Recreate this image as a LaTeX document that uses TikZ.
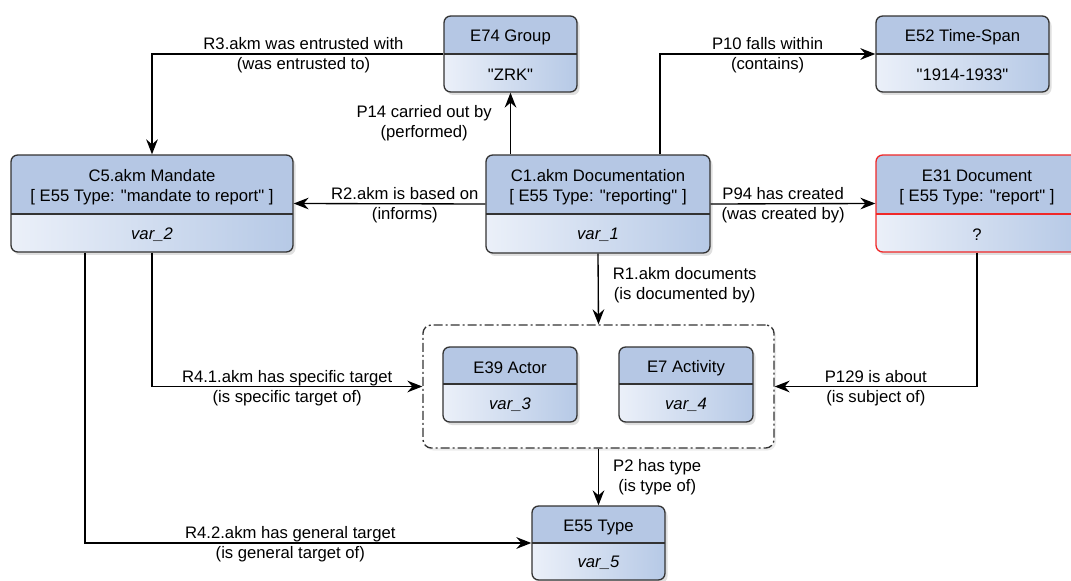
\documentclass[tikz,border=0pt]{standalone}
\usepackage{fontspec}
\setmainfont{Liberation Sans}[Ligatures=TeXOff]
\usetikzlibrary{arrows.meta,shadows}

\definecolor{hdrblue}{HTML}{B5C7E4}
\definecolor{bodyleft}{HTML}{EBF0F9}
\definecolor{bodyright}{HTML}{B6C9E6}
\definecolor{boxline}{HTML}{333333}
\definecolor{redline}{HTML}{F02828}

\tikzset{
  entity/.style n args={4}{draw=#4, line width=0.8pt, rounded corners=4pt,
    minimum width=#1*0.6pt, minimum height=#2*0.6pt, inner sep=0pt,
    drop shadow={shadow xshift=1.5pt, shadow yshift=-1.8pt, opacity=0.25},
    path picture={
      \fill[hdrblue, sharp corners] (path picture bounding box.north west) rectangle ([yshift=-#3*0.6pt]path picture bounding box.north east);
      \shade[left color=bodyleft, right color=bodyright, sharp corners] ([yshift=-#3*0.6pt]path picture bounding box.north west) rectangle (path picture bounding box.south east);
      \draw[#4, line width=0.8pt, sharp corners] ([yshift=-#3*0.6pt]path picture bounding box.north west) -- ([yshift=-#3*0.6pt]path picture bounding box.north east);
    }},
  frame/.style={draw=boxline, line width=0.8pt, rounded corners=5pt, fill=white,
    dash pattern=on 5.4pt off 1.8pt on 1.2pt off 1.8pt, inner sep=0pt,
    drop shadow={shadow xshift=1.2pt, shadow yshift=-1.5pt, opacity=0.15}},
  hdrtext/.style={align=center, inner sep=0pt, yshift=-1.5pt},
  bodytext/.style={inner sep=0pt, yshift=-1pt},
  rel/.style={draw=black, line width=0.8pt, -{Stealth[length=9pt, width=7pt, inset=3pt]}},
  lbl/.style={align=center, inner sep=0pt}
}

\begin{document}
\begin{tikzpicture}[x=0.6pt, y=-0.6pt, font=\fontsize{10}{12}\selectfont]
  \useasboundingbox (0,0) rectangle (1071,581);

  % top row
  \node[entity={133}{76}{38}{boxline}] (group) at (510.5,54) {};
  \node[hdrtext] (group-h) at (510.5,35) {E74 Group};
  \node[bodytext] (group-b) at (510.5,73) {"ZRK"};

  \node[entity={173}{76}{38}{boxline}] (span) at (962.5,54) {};
  \node[hdrtext] (span-h) at (962.5,35) {E52 Time-Span};
  \node[bodytext] (span-b) at (962.5,73) {"1914-1933"};

  % middle row
  \node[entity={282}{97}{59}{boxline}] (mandate) at (152,203.5) {};
  \node[hdrtext] (mandate-h) at (152,184.5) {C5.akm Mandate\\{[} E55 Type: "mandate to report" ]};
  \node[bodytext] (mandate-b) at (152,233) {\textit{var\_2}};

  \node[entity={224}{98}{59}{boxline}] (doc) at (598,204) {};
  \node[hdrtext] (doc-h) at (598,184.5) {C1.akm Documentation\\{[} E55 Type: "reporting" ]};
  \node[bodytext] (doc-b) at (598,233.5) {\textit{var\_1}};

  \node[entity={202}{97}{59}{redline}] (report) at (977,203.5) {};
  \node[hdrtext] (report-h) at (977,184.5) {E31 Document\\{[} E55 Type: "report" ]};
  \node[bodytext] (report-b) at (977,233) {?};

  % targets
  \node[frame, minimum width=351*0.6pt, minimum height=123*0.6pt] (targets) at (598.5,386.5) {};
  \node[entity={134}{75}{37}{boxline}] (actor) at (510,384.5) {};
  \node[hdrtext] (actor-h) at (510,365.5) {E39 Actor};
  \node[bodytext] (actor-b) at (510,403) {\textit{var\_3}};
  \node[entity={134}{75}{37}{boxline}] (activity) at (686,384.5) {};
  \node[hdrtext] (activity-h) at (686,365.5) {E7 Activity};
  \node[bodytext] (activity-b) at (686,403) {\textit{var\_4}};

  % bottom
  \node[entity={133}{74}{37}{boxline}] (type) at (598.5,543) {};
  \node[hdrtext] (type-h) at (598.5,524.5) {E55 Type};
  \node[bodytext] (type-b) at (598.5,561.5) {\textit{var\_5}};

  % relations
  \draw[rel] (group.west) -| node[lbl, pos=0.24, yshift=-1pt] {R3.akm was entrusted with\\(was entrusted to)} (mandate.north);
  \draw[rel] (doc.north -| group.south) -- node[lbl, left=10.8pt] {P14 carried out by\\(performed)} (group.south);
  \draw[rel] ([xshift=62*0.6pt]doc.north) |- node[lbl, pos=0.75, yshift=-1pt] {P10 falls within\\(contains)} (span.west);
  \draw[rel] (doc.west) -- node[lbl, pos=0.42, yshift=-1pt] {R2.akm is based on\\(informs)} (mandate.east);
  \draw[rel] (doc.east) -- node[lbl, pos=0.44, yshift=-1pt] {P94 has created\\(was created by)} (report.west);
  \draw[rel] (doc.south) -- node[lbl, right=8.4pt, yshift=2pt] {R1.akm documents\\(is documented by)} (targets.north);
  \draw[rel] (report.south) |- node[lbl, pos=0.75, yshift=-1pt] {P129 is about\\(is subject of)} (targets.east);
  \draw[rel] (mandate.south) |- node[lbl, pos=0.75, yshift=-1pt] {R4.1.akm has specific target\\(is specific target of)} (targets.west);
  \draw[rel] ([xshift=-67*0.6pt]mandate.south) |- node[lbl, pos=0.73, yshift=-1pt] {R4.2.akm has general target\\(is general target of)} (type.west);
  \draw[rel] (targets.south) -- node[lbl, right=8.4pt] {P2 has type\\(is type of)} (type.north);
\end{tikzpicture}
\end{document}
